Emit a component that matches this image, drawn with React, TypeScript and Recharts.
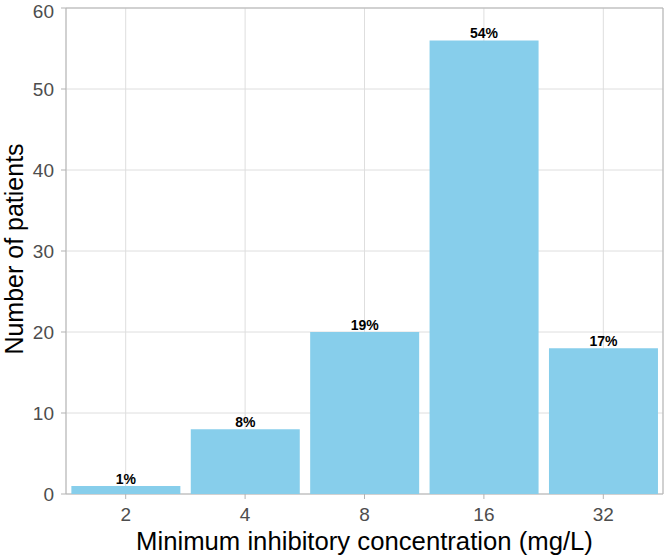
import { BarChart, Bar, XAxis, YAxis, CartesianGrid, ReferenceArea, LabelList } from 'recharts';

const micLevels = ['2', '4', '8', '16', '32'];
const patientCounts = [1, 8, 20, 56, 18];
const patientShares = ['1%', '8%', '19%', '54%', '17%'];
const yTicks = [0, 10, 20, 30, 40, 50, 60];

const rows = micLevels.map((mic, i) => ({ mic, patients: patientCounts[i], share: patientShares[i] }));

const font = '"Liberation Sans", Arial, sans-serif';

// axis titles drawn by hand so they sit where the original puts them
const YTitle = (props: any) => {
  const vb = props.viewBox || {};
  const cy = vb.y + vb.height / 2 - 2;
  return (
    <text x={13.5} y={cy} transform={`rotate(-90, 13.5, ${cy})`} textAnchor="middle" dominantBaseline="central" fill="#000" fontSize={25} fontFamily={font}>
      Number of patients
    </text>
  );
};

const XTitle = (props: any) => {
  const vb = props.viewBox || {};
  const cx = vb.x + vb.width / 2;
  return (
    <text x={cx} y={541} textAnchor="middle" dominantBaseline="central" fill="#000" fontSize={25.7} fontFamily={font}>
      Minimum inhibitory concentration (mg/L)
    </text>
  );
};

export default function App() {
  return (
    <div style={{ position: 'absolute', left: 0, top: 0, width: 666, height: 558, background: '#fff', fontFamily: font }}>
      <BarChart
        width={666}
        height={558}
        data={rows}
        margin={{ top: 8, right: 3, left: 0, bottom: 0 }}
        barCategoryGap="4.5%"
      >
        <CartesianGrid stroke="#dedede" strokeWidth={1} />
        <XAxis
          dataKey="mic"
          height={64}
          axisLine={false}
          tickSize={5}
          tickMargin={9}
          tickLine={{ stroke: '#b3b3b3' }}
          tick={{ fill: '#4d4d4d', fontSize: 19, fontFamily: font }}
          label={<XTitle />}
        />
        <YAxis
          domain={[0, 60]}
          ticks={yTicks}
          width={66}
          axisLine={false}
          tickSize={5}
          tickMargin={7}
          tickLine={{ stroke: '#b3b3b3' }}
          tick={{ fill: '#4d4d4d', fontSize: 19, fontFamily: font }}
          label={<YTitle />}
        />
        <Bar dataKey="patients" fill="#87ceeb" isAnimationActive={false}>
          <LabelList dataKey="share" position="top" offset={2} fill="#000" fontSize={14} fontWeight="bold" fontFamily={font} />
        </Bar>
        <ReferenceArea y1={0} y2={60} fill="none" stroke="#b3b3b3" strokeWidth={1} ifOverflow="visible" />
      </BarChart>
    </div>
  );
}
